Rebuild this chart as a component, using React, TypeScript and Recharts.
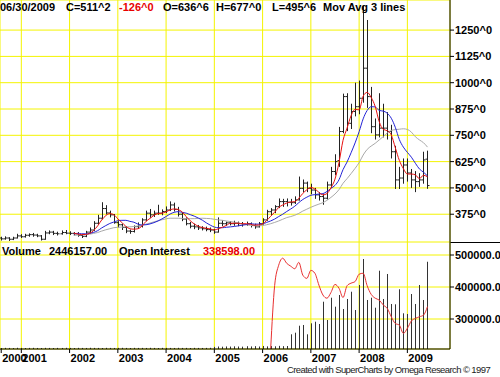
import React from 'react'
import { ComposedChart, Bar, Line, XAxis, YAxis, CartesianGrid } from 'recharts'

const FONT = "'Liberation Sans', Arial, Helvetica, sans-serif"

// monthly bars, Aug 2000 .. Jun 2009 (month numbers counted from Jan 2000)
const firstMonth = 7
const years = [2000, 2001, 2002, 2003, 2004, 2005, 2006, 2007, 2008, 2009]

const opens = [
  262, 258, 262, 256, 262, 272, 268, 275, 278, 276,
  272, 256, 286, 290, 284, 282, 288, 285, 284, 282,
  274, 270, 290, 300, 332, 356, 402, 381, 372, 335,
  325, 312, 295, 293, 316, 320, 348, 380, 372, 380,
  380, 388, 395, 419, 398, 375, 352, 330, 318, 315,
  310, 306, 302, 300, 290, 332, 330, 334, 330, 332,
  330, 326, 330, 322, 315, 330, 348, 387, 395, 411,
  435, 435, 432, 430, 443, 498, 523, 498, 490, 467,
  459, 451, 514, 578, 630, 768, 934, 807, 863, 886,
  926, 1069, 934, 791, 752, 784, 784, 768, 672, 538,
  547, 609, 571, 538, 530, 538, 636.75,
]
const highs = [
  268, 270, 266, 268, 282, 280, 282, 284, 286, 282,
  276, 296, 298, 296, 292, 298, 300, 294, 290, 290,
  280, 296, 312, 342, 372, 432, 418, 392, 376, 342,
  330, 318, 302, 322, 336, 356, 392, 400, 392, 420,
  398, 412, 436, 430, 410, 384, 360, 338, 330, 324,
  318, 316, 312, 306, 360, 346, 340, 342, 344, 340,
  338, 340, 336, 330, 338, 356, 396, 404, 418, 450,
  448, 450, 448, 460, 554, 540, 530, 520, 500, 480,
  470, 530, 600, 660, 790, 948, 950, 900, 1000, 1010,
  1365, 1298, 980, 830, 950, 900, 860, 800, 700, 600,
  640, 640, 590, 580, 570, 672, 677,
]
const lows = [
  250, 254, 248, 252, 260, 262, 264, 268, 268, 266,
  250, 254, 280, 276, 274, 278, 280, 276, 274, 268,
  262, 266, 284, 296, 326, 350, 374, 360, 330, 312,
  300, 285, 282, 288, 306, 312, 342, 358, 362, 372,
  370, 380, 390, 388, 364, 342, 322, 308, 304, 300,
  298, 294, 290, 282, 288, 318, 320, 322, 320, 318,
  316, 320, 312, 306, 312, 326, 344, 370, 380, 404,
  410, 412, 416, 424, 440, 480, 480, 470, 448, 440,
  420, 445, 500, 560, 600, 760, 770, 780, 840, 850,
  905, 880, 760, 730, 740, 740, 730, 640, 495, 495,
  520, 530, 500, 480, 505, 520, 495.75,
]
const closes = [
  258, 262, 256, 262, 272, 268, 275, 278, 276, 272,
  256, 286, 290, 284, 282, 288, 285, 284, 282, 274,
  270, 290, 300, 332, 356, 402, 381, 372, 335, 325,
  312, 295, 293, 316, 320, 348, 380, 372, 380, 380,
  388, 395, 419, 398, 375, 352, 330, 318, 315, 310,
  306, 302, 300, 290, 332, 330, 334, 330, 332, 330,
  326, 330, 322, 315, 330, 348, 387, 395, 411, 435,
  435, 432, 430, 443, 498, 523, 498, 490, 467, 459,
  451, 514, 578, 625, 768, 934, 807, 863, 886, 926,
  1069, 934, 791, 752, 784, 784, 768, 672, 538, 547,
  609, 571, 538, 530, 538, 633, 511.25,
]

// moving average lines as drawn, from Feb 2002 on
const maStart = 18
const maFast = [
  285, 281, 278, 279, 284, 298, 320, 348, 368, 378,
  373, 353, 336, 317, 306, 304, 306, 319, 341, 355,
  370, 378, 380, 386, 396, 400, 397, 386, 364, 344,
  329, 318, 312, 308, 305, 300, 306, 313, 322, 332,
  332, 332, 330, 330, 327, 323, 324, 329, 345, 365,
  385, 407, 419, 428, 433, 435, 451, 474, 491, 502,
  495, 479, 467, 473, 501, 542, 621, 726, 784, 843,
  873, 871, 936, 954, 930, 887, 815, 778, 772, 752,
  691, 631, 592, 566, 566, 562, 544, 560, 553,
]
const maMid = [
  282, 284, 282, 282, 284, 289, 297, 310, 321, 331,
  338, 344, 346, 346, 341, 337, 328, 324, 325, 329,
  335, 343, 353, 364, 376, 384, 387, 384, 380, 373,
  366, 357, 347, 334, 323, 314, 311, 311, 313, 315,
  317, 320, 323, 326, 330, 328, 328, 329, 336, 343,
  352, 364, 375, 388, 400, 413, 430, 445, 456, 465,
  468, 471, 473, 483, 498, 512, 539, 587, 623, 667,
  714, 767, 828, 868, 886, 885, 868, 865, 855, 831,
  788, 730, 694, 669, 646, 617, 590, 575, 557,
]
const maSlow = [
  275, 276, 277, 278, 280, 284, 288, 295, 301, 306,
  311, 313, 314, 315, 315, 317, 319, 322, 328, 333,
  339, 344, 349, 353, 356, 356, 356, 355, 354, 354,
  354, 355, 356, 355, 354, 351, 348, 346, 343, 340,
  337, 334, 328, 325, 322, 320, 320, 321, 325, 330,
  336, 343, 351, 359, 364, 370, 379, 390, 399, 408,
  416, 423, 430, 441, 455, 471, 492, 522, 544, 568,
  593, 620, 656, 683, 699, 712, 728, 744, 761, 773,
  777, 779, 781, 778, 765, 743, 728, 715, 694,
]

const volumes = [
  28000, 32000, 30000, 26000, 34000, 30000, 28000, 31000, 33000, 29000,
  27000, 32000, 30000, 28000, 31000, 29000, 33000, 30000, 28000, 32000,
  30000, 29000, 34000, 31000, 30000, 28000, 32000, 30000, 29000, 31000,
  33000, 30000, 28000, 32000, 30000, 31000, 29000, 33000, 30000, 28000,
  32000, 31000, 30000, 29000, 33000, 30000, 31000, 28000, 32000, 30000,
  29000, 31000, 33000, 60000, 70000, 65000, 72000, 68000, 75000, 70000,
  66000, 78000, 72000, 80000, 70000, 85000, 74000, 82000, 76000, 88000,
  80000, 84000, 412000, 457000, 653000, 673000, 412000, 720000, 765000, 701000,
  1326000, 813000, 1438000, 1186000, 1514000, 1121000, 1402000, 1606000, 1093000, 1794000,
  2523000, 1374000, 1438000, 1158000, 2195000, 1402000, 2103000, 1262000, 1253000, 1674000,
  1001000, 981000, 1542000, 1262000, 1794000, 1374000, 2446157,
]
const openInterest: (number | null)[] = [
  null, null, null, null, null, null, null, null, null, null,
  null, null, null, null, null, null, null, null, null, null,
  null, null, null, null, null, null, null, null, null, null,
  null, null, null, null, null, null, null, null, null, null,
  null, null, null, null, null, null, null, null, null, null,
  null, null, null, null, null, null, null, null, null, null,
  null, null, null, null, null, null, null, 205000, 405000, 468000,
  490000, 474000, 465000, 457000, 477000, 437000, 427000, 452000, 443000, 406000,
  375000, 365000, 383000, 408000, 396000, 367000, 404000, 412000, 417000, 440000,
  443000, 404000, 377000, 365000, 359000, 344000, 333000, 307000, 286000, 281000,
  255000, 271000, 294000, 302000, 307000, 312000, 338598,
]

const priceTicks = [375, 500, 625, 750, 875, 1000, 1125, 1250]
const oiTicks = [300000, 400000, 500000]

const rows = closes.map((c, i) => ({
  m: firstMonth + i,
  range: [lows[i], highs[i]],
  o: opens[i],
  c,
  fast: i >= maStart ? maFast[i - maStart] : null,
  mid: i >= maStart ? maMid[i - maStart] : null,
  slow: i >= maStart ? maSlow[i - maStart] : null,
  vol: volumes[i],
  oi: openInterest[i],
}))

const gridMonths = years.slice(1).map((y) => (y - 2000) * 12)
const labelMonths = [firstMonth, ...gridMonths]
const monthDomain: [number, number] = [6.7, 118.6]

const GRID = '#f4f400'
const INK = '#000'

function OhlcBar(props: any) {
  const { x, y, width, height, payload } = props
  if (x == null || y == null) return null
  const cx = Math.round(x + width / 2) + 0.5
  const top = Math.min(y, y + height)
  const bottom = Math.max(y, y + height)
  const [lo, hi] = payload.range
  const span = hi - lo || 1
  const yo = top + ((hi - payload.o) / span) * (bottom - top)
  const yc = top + ((hi - payload.c) / span) * (bottom - top)
  return (
    <g stroke="#222" strokeWidth={1}>
      <line x1={cx} x2={cx} y1={top} y2={bottom} />
      <line x1={cx - 2} x2={cx} y1={yo} y2={yo} />
      <line x1={cx} x2={cx + 2} y1={yc} y2={yc} />
    </g>
  )
}

function VolumeBar(props: any) {
  const { x, y, width, height } = props
  if (x == null || y == null) return null
  const cx = Math.round(x + width / 2) + 0.5
  return <line x1={cx} x2={cx} y1={y} y2={y + height} stroke="#333" strokeWidth={1} />
}

function YearTick(props: any) {
  const { x, y, payload } = props
  const year = 2000 + Math.floor(payload.value / 12)
  return (
    <text x={x + 1} y={y + 7} fontSize={11} fontWeight="bold" fontFamily={FONT} fill={INK}>
      {year}
    </text>
  )
}

const axisTick = { fill: INK, fontSize: 11, fontWeight: 'bold', fontFamily: FONT }

const label = (left: number, top: number, text: string, color = INK, extra = {}) => (
  <span
    style={{
      position: 'absolute',
      left,
      top,
      fontFamily: FONT,
      fontSize: 11,
      fontWeight: 'bold',
      lineHeight: '14px',
      color,
      whiteSpace: 'nowrap',
      ...extra,
    }}
  >
    {text}
  </span>
)

export default function App() {
  return (
    <div
      style={{
        position: 'absolute',
        left: 0,
        top: 0,
        width: 500,
        height: 377,
        background: '#fff',
        overflow: 'hidden',
      }}
    >
      <div style={{ position: 'absolute', left: 0, top: 0 }}>
        <ComposedChart width={500} height={242} data={rows} margin={{ top: 0, right: 0, bottom: 0, left: 0 }}>
          <CartesianGrid stroke={GRID} />
          <XAxis dataKey="m" type="number" domain={monthDomain} ticks={gridMonths} hide height={0} />
          <YAxis
            orientation="right"
            width={50}
            domain={[243, 1393]}
            allowDataOverflow
            ticks={priceTicks}
            tickFormatter={(v) => `${v}^0`}
            tick={axisTick}
            tickSize={4}
            tickMargin={1}
            axisLine={{ stroke: INK }}
            tickLine={{ stroke: INK }}
          />
          <Bar dataKey="range" barSize={4} shape={<OhlcBar />} isAnimationActive={false} />
          <Line dataKey="slow" type="monotone" stroke="#a9a9a9" strokeWidth={1} dot={false} isAnimationActive={false} />
          <Line dataKey="mid" type="monotone" stroke="#2323d6" strokeWidth={1} dot={false} isAnimationActive={false} />
          <Line dataKey="fast" type="monotone" stroke="#e81010" strokeWidth={1} dot={false} isAnimationActive={false} />
        </ComposedChart>
      </div>

      <div style={{ position: 'absolute', left: 450, top: 242, width: 50, height: 1, background: INK }} />

      <div style={{ position: 'absolute', left: 0, top: 242 }}>
        <ComposedChart width={500} height={135} data={rows} margin={{ top: 0, right: 0, bottom: 0, left: 0 }}>
          <CartesianGrid stroke={GRID} xAxisId="grid" yAxisId="oi" />
          <XAxis xAxisId="grid" dataKey="m" type="number" domain={monthDomain} ticks={gridMonths} hide height={0} />
          <XAxis
            dataKey="m"
            type="number"
            domain={monthDomain}
            ticks={labelMonths}
            interval={0}
            height={28}
            tick={<YearTick />}
            tickSize={4}
            axisLine={{ stroke: INK }}
            tickLine={{ stroke: INK }}
          />
          <YAxis
            yAxisId="oi"
            orientation="right"
            width={50}
            domain={[206250, 540625]}
            allowDataOverflow
            ticks={oiTicks}
            tickFormatter={(v) => Number(v).toFixed(2)}
            tick={axisTick}
            tickSize={4}
            tickMargin={1}
            axisLine={{ stroke: INK }}
            tickLine={{ stroke: INK }}
          />
          <YAxis yAxisId="vol" hide domain={[0, 3000000]} />
          <Bar yAxisId="vol" dataKey="vol" barSize={4} shape={<VolumeBar />} isAnimationActive={false} />
          <Line yAxisId="oi" dataKey="oi" type="monotone" stroke="#e83030" strokeWidth={1} dot={false} isAnimationActive={false} />
        </ComposedChart>
      </div>

      {label(0, 0, '06/30/2009')}
      {label(66, 0, 'C=511^2')}
      {label(119, 0, '-126^0', '#e80000')}
      {label(163, 0, 'O=636^6')}
      {label(216, 0, 'H=677^0')}
      {label(272, 0, 'L=495^6')}
      {label(323, 0, 'Mov Avg 3 lines')}

      {label(2, 244, 'Volume')}
      {label(49, 244, '2446157.00')}
      {label(119, 244, 'Open Interest')}
      {label(203, 244, '338598.00', '#e80000')}

      {label(287, 363, 'Created with SuperCharts by Omega Research \u00a9 1997', '#222', {
        fontWeight: 'normal',
        fontSize: 9.5,
        letterSpacing: '-0.6px',
      })}
    </div>
  )
}
